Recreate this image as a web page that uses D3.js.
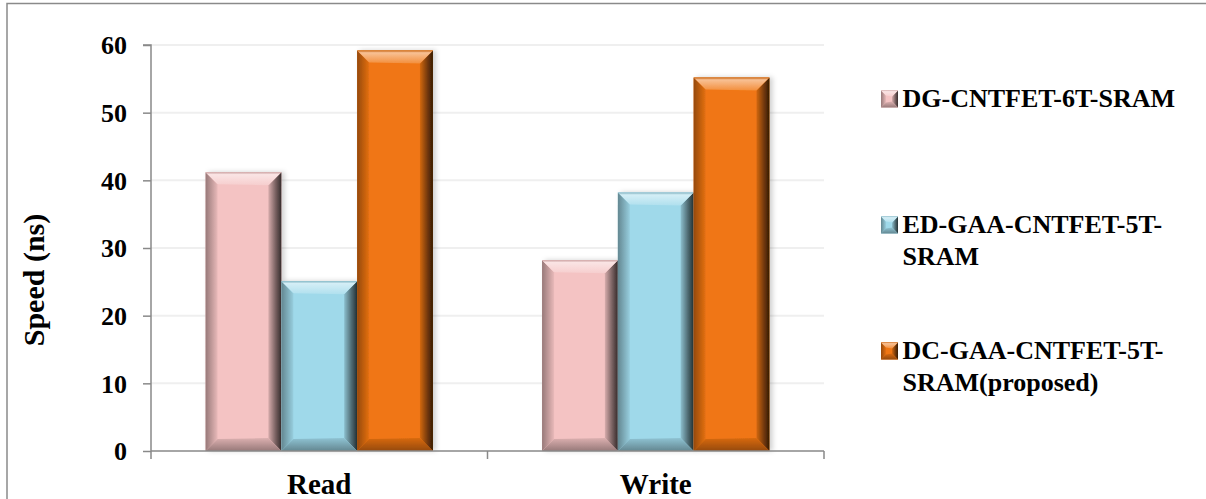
<!DOCTYPE html>
<html>
<head>
<meta charset="utf-8">
<script src="https://cdn.jsdelivr.net/npm/d3@7"></script>
<style>
  html, body { margin: 0; padding: 0; background: #fff; }
  svg { display: block; }
</style>
</head>
<body>
<svg id="chart" width="1206" height="499" font-family="Liberation Serif" font-weight="bold"></svg>
<script>
const categories = ["Read", "Write"];
const seriesNames = ["DG-CNTFET-6T-SRAM", "ED-GAA-CNTFET-5T-SRAM", "DC-GAA-CNTFET-5T-SRAM(proposed)"];
const legendLines = [["DG-CNTFET-6T-SRAM"], ["ED-GAA-CNTFET-5T-", "SRAM"], ["DC-GAA-CNTFET-5T-", "SRAM(proposed)"]];
const dgValues = [41.2, 28.2];
const edValues = [25.1, 38.2];
const dcValues = [59.2, 55.2];
const yTicks = [0, 10, 20, 30, 40, 50, 60];
const yTitle = "Speed (ns)";
const colors = ["#F4C3C3", "#9FD9EA", "#F07613"];

const seriesValues = [dgValues, edValues, dcValues];
const svg = d3.select("#chart");
const plot = { left: 151, right: 824, top: 45, bottom: 451 };

const x0 = d3.scaleBand().domain(categories).range([plot.left, plot.right]).padding(0);
const x1 = d3.scaleBand().domain(d3.range(seriesNames.length)).range([0, x0.bandwidth()]).paddingInner(0).paddingOuter(0.72);
const y = d3.scaleLinear().domain([0, 60]).range([plot.bottom, plot.top]);

// outer border
svg.append("rect").attr("x", 7).attr("y", 3.5).attr("width", 1220).attr("height", 520)
  .attr("fill", "#fff").attr("stroke", "#8a8a8a").attr("stroke-width", 1.5);

const defs = svg.append("defs");
const flt = defs.append("filter").attr("id", "shadow").attr("x", "-10%").attr("y", "-10%").attr("width", "130%").attr("height", "120%");
flt.append("feDropShadow").attr("dx", 3).attr("dy", 0).attr("stdDeviation", 2.5).attr("flood-color", "#000").attr("flood-opacity", 0.18);

function shade(c, k) { const col = d3.color(c); return d3.rgb(col.r * k, col.g * k, col.b * k).formatHex(); }
function mixW(c, t) { return d3.interpolateRgb(c, "#ffffff")(t); }

colors.forEach((c, i) => {
  const gTop = defs.append("linearGradient").attr("id", "top" + i).attr("x1", 0).attr("y1", 0).attr("x2", 0).attr("y2", 1);
  gTop.append("stop").attr("offset", "0%").attr("stop-color", shade(c, 0.82));
  gTop.append("stop").attr("offset", "18%").attr("stop-color", mixW(c, 0.55));
  gTop.append("stop").attr("offset", "100%").attr("stop-color", mixW(c, 0.18));
  const gBot = defs.append("linearGradient").attr("id", "bot" + i).attr("x1", 0).attr("y1", 0).attr("x2", 0).attr("y2", 1);
  gBot.append("stop").attr("offset", "0%").attr("stop-color", shade(c, 0.9));
  gBot.append("stop").attr("offset", "100%").attr("stop-color", shade(c, 0.62));
  const gL = defs.append("linearGradient").attr("id", "left" + i).attr("x1", 0).attr("y1", 0).attr("x2", 1).attr("y2", 0);
  gL.append("stop").attr("offset", "0%").attr("stop-color", shade(c, 0.62));
  gL.append("stop").attr("offset", "100%").attr("stop-color", shade(c, 0.95));
  const gR = defs.append("linearGradient").attr("id", "right" + i).attr("x1", 0).attr("y1", 0).attr("x2", 1).attr("y2", 0);
  gR.append("stop").attr("offset", "0%").attr("stop-color", shade(c, 0.88));
  gR.append("stop").attr("offset", "55%").attr("stop-color", shade(c, 0.5));
  gR.append("stop").attr("offset", "100%").attr("stop-color", shade(c, 0.22));
});

function bevelBar(g, x, yTop, w, h, i, b, br) {
  g.append("rect").attr("x", x).attr("y", yTop).attr("width", w).attr("height", h).attr("fill", colors[i]);
  const pts = a => a.map(p => p.join(",")).join(" ");
  g.append("polygon").attr("points", pts([[x, yTop], [x + b, yTop + b], [x + b, yTop + h - b], [x, yTop + h]]))
    .attr("fill", `url(#left${i})`);
  g.append("polygon").attr("points", pts([[x + w, yTop], [x + w - br, yTop + br], [x + w - br, yTop + h - br], [x + w, yTop + h]]))
    .attr("fill", `url(#right${i})`);
  g.append("polygon").attr("points", pts([[x, yTop], [x + w, yTop], [x + w - br, yTop + br], [x + b, yTop + b]]))
    .attr("fill", `url(#top${i})`);
  g.append("polygon").attr("points", pts([[x, yTop + h], [x + w, yTop + h], [x + w - br, yTop + h - br], [x + b, yTop + h - b]]))
    .attr("fill", `url(#bot${i})`);
}

// gridlines
svg.append("g").selectAll("line").data(yTicks.filter(d => d > 0)).join("line")
  .attr("x1", plot.left).attr("x2", plot.right)
  .attr("y1", d => y(d)).attr("y2", d => y(d))
  .attr("stroke", "#efefef").attr("stroke-width", 2);

// bars
const barsG = svg.append("g");
categories.forEach((cat, ci) => {
  seriesValues.forEach((vals, si) => {
    const g = barsG.append("g").attr("filter", "url(#shadow)");
    const bx = x0(cat) + x1(si);
    const w = x1.bandwidth();
    const yt = y(vals[ci]);
    const h = y(0) - yt;
    bevelBar(g, bx, yt, w, h, si, 12, 13);
  });
});

// y axis
const yAxis = d3.axisLeft(y).tickValues(yTicks).tickSize(8).tickPadding(16).tickFormat(d3.format("d"));
const ya = svg.append("g").attr("transform", `translate(${plot.left},0)`).call(yAxis);
ya.attr("font-family", "Liberation Serif").attr("font-size", 26);
ya.select(".domain").attr("stroke", "#898989").attr("stroke-width", 1.5).attr("d", `M-8,${plot.top}H0V${plot.bottom}`);
ya.selectAll(".tick line").attr("stroke", "#898989").attr("stroke-width", 1.5);
ya.selectAll(".tick text").attr("dy", "0.34em").attr("font-family", "Liberation Serif")
  .attr("font-size", 26).attr("font-weight", "bold").attr("fill", "#000");

// x axis
const xa = svg.append("g").attr("transform", `translate(0,${plot.bottom})`);
xa.append("line").attr("x1", plot.left).attr("x2", plot.right).attr("y1", 0).attr("y2", 0)
  .attr("stroke", "#898989").attr("stroke-width", 1.5);
const xTickPos = [plot.left].concat(categories.map(c => x0(c) + x0.bandwidth()));
xa.selectAll("line.tk").data(xTickPos).join("line").attr("class", "tk")
  .attr("x1", d => d).attr("x2", d => d).attr("y1", 0).attr("y2", 8)
  .attr("stroke", "#898989").attr("stroke-width", 1.5);
xa.selectAll("text").data(categories).join("text")
  .attr("x", d => x0(d) + x0.bandwidth() / 2).attr("y", 43)
  .attr("text-anchor", "middle").attr("font-family", "Liberation Serif").attr("font-weight", "bold")
  .attr("font-size", 29).text(d => d);

// y title
svg.append("text").attr("transform", "translate(43.5,280) rotate(-90)")
  .attr("text-anchor", "middle").attr("font-family", "Liberation Serif").attr("font-weight", "bold")
  .attr("font-size", 30).text(yTitle);

// legend
const legendY = [107, 233, 359];
const lg = svg.append("g");
legendLines.forEach((lines, i) => {
  const g = lg.append("g");
  bevelBar(g, 881, legendY[i] - 16.5, 17, 17, i, 5, 6);
  lines.forEach((ln, j) => {
    g.append("text").attr("x", 902.5).attr("y", legendY[i] + j * 31.5)
      .attr("font-family", "Liberation Serif").attr("font-weight", "bold")
      .attr("font-size", 26).text(ln);
  });
});
</script>
</body>
</html>
